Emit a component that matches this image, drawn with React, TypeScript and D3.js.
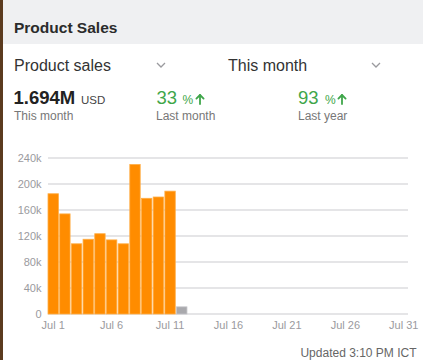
import React from "react";
import * as d3 from "d3";

const days: number[] = Array.from({ length: 31 }, (_, i) => i + 1);
const salesDays: number[] = [1, 2, 3, 4, 5, 6, 7, 8, 9, 10, 11, 12];
const salesValues: number[] = [185000, 154000, 108000, 115000, 123500, 114000, 108000, 230000, 178000, 180000, 189000, 11000];
const partialDay = 12;
const yTicks: number[] = [0, 40000, 80000, 120000, 160000, 200000, 240000];
const xTickDays: number[] = [1, 6, 11, 16, 21, 26, 31];

const FONT = "'Liberation Sans', Arial, Helvetica, sans-serif";

function Chevron({ x, y }: { x: number; y: number }) {
  return (
    <path d={`M${x},${y} L${x + 4},${y + 4} L${x + 8},${y}`} fill="none" stroke="#9a9a9e" strokeWidth={1.3} />
  );
}

function UpArrow({ x, y, color }: { x: number; y: number; color: string }) {
  return (
    <g stroke={color} strokeWidth={1.8} fill="none" strokeLinecap="round" strokeLinejoin="round">
      <path d={`M${x},${y + 9} L${x},${y}`} />
      <path d={`M${x - 3.6},${y + 3.6} L${x},${y} L${x + 3.6},${y + 3.6}`} />
    </g>
  );
}

export default function App() {
  const W = 423;
  const H = 360;
  const x = d3.scaleBand<number>().domain(days).range([48, 409]).paddingInner(0.11).paddingOuter(0.0);
  const y = d3.scaleLinear().domain([0, 240000]).range([314, 158]);
  const fmt = (v: number) => (v === 0 ? "0" : `${v / 1000}k`);
  const green = "#3fa64a";

  return (
    <svg width={W} height={H} style={{ position: "absolute", left: 0, top: 0, display: "block" }} fontFamily={FONT}>
      <rect x={0} y={0} width={W} height={H} fill="#ffffff" />
      <rect x={0} y={0} width={W} height={44} fill="#eff0f2" />
      <rect x={0} y={0} width={3} height={H} fill="#5b3b1f" />
      <text x={14} y={33} fontSize={15.5} fontWeight="bold" fill="#2b2b2b">Product Sales</text>

      <text x={14} y={71} fontSize={16} fill="#333">Product sales</text>
      <Chevron x={157} y={63} />
      <text x={228} y={71} fontSize={16} fill="#333">This month</text>
      <Chevron x={372} y={63} />

      <text x={13.5} y={104} fontSize={18.5} fontWeight="bold" fill="#222">1.694M</text>
      <text x={81} y={104} fontSize={11.5} fill="#444">USD</text>
      <text x={14} y={120} fontSize={12} fill="#777">This month</text>

      <text x={156.5} y={104} fontSize={18.5} fill={green}>33</text>
      <text x={182.5} y={104} fontSize={12} fill={green}>%</text>
      <UpArrow x={200} y={95} color={green} />
      <text x={156} y={120} fontSize={12} fill="#777">Last month</text>

      <text x={298} y={104} fontSize={18.5} fill={green}>93</text>
      <text x={325} y={104} fontSize={12} fill={green}>%</text>
      <UpArrow x={342} y={95} color={green} />
      <text x={298} y={120} fontSize={12} fill="#777">Last year</text>

      {yTicks.map((t) => (
        <g key={t}>
          <line x1={48} x2={408} y1={y(t)} y2={y(t)} stroke="#dcdcdf" strokeWidth={1.5} />
          <text x={41.5} y={y(t)} dy="0.35em" textAnchor="end" fontSize={11} fill="#9a9a9e">{fmt(t)}</text>
        </g>
      ))}

      {salesDays.map((d, i) => {
        const v = salesValues[i];
        const partial = d === partialDay;
        return (
          <rect
            key={d}
            x={x(d)!}
            y={y(v)}
            width={x.bandwidth()}
            height={y(0) - y(v)}
            fill={partial ? "#a9a9ad" : "#ff8c00"}
            stroke={partial ? "#c4c4c8" : "#ffad45"}
            strokeWidth={0.8}
          />
        );
      })}

      {xTickDays.map((d) => (
        <text key={d} x={x(d)! + x.bandwidth() / 2} y={325} dy="0.35em" textAnchor="middle" fontSize={11} fill="#9a9a9e">
          {`Jul ${d}`}
        </text>
      ))}

      <text x={416.5} y={357} textAnchor="end" fontSize={12} fill="#666">Updated 3:10 PM ICT</text>
    </svg>
  );
}
